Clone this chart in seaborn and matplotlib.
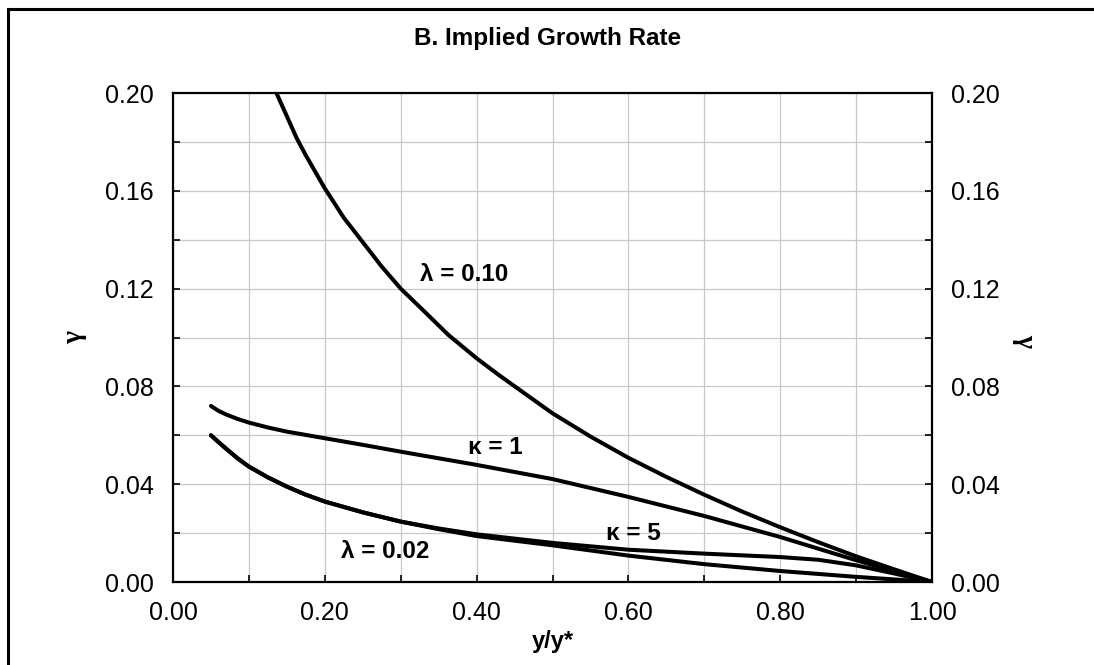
import matplotlib
matplotlib.use("Agg")
import matplotlib.pyplot as plt
import matplotlib.patches as mpatches
from matplotlib.ticker import MultipleLocator, FormatStrFormatter
import seaborn as sns
import pandas as pd

# ---- data ----
x_lam10 = [0.12, 0.137, 0.15, 0.163, 0.175, 0.20, 0.225, 0.25, 0.275, 0.30, 0.33, 0.363, 0.40, 0.43, 0.50, 0.55, 0.60, 0.65, 0.70, 0.75, 0.80, 0.85, 0.90, 0.95, 1.00]
y_lam10 = [0.212, 0.1995, 0.1905, 0.1815, 0.1745, 0.161, 0.149, 0.139, 0.129, 0.120, 0.111, 0.101, 0.0915, 0.0845, 0.069, 0.0595, 0.0508, 0.043, 0.0357, 0.0288, 0.0224, 0.0163, 0.0105, 0.0052, 0.0]

x_kap1 = [0.05, 0.06, 0.07, 0.085, 0.10, 0.125, 0.15, 0.20, 0.25, 0.30, 0.40, 0.50, 0.60, 0.70, 0.80, 0.90, 1.00]
y_kap1 = [0.072, 0.070, 0.0685, 0.0667, 0.0652, 0.0632, 0.0615, 0.0588, 0.0561, 0.0533, 0.0479, 0.0421, 0.0348, 0.027, 0.0184, 0.0089, 0.0]

x_kap5 = [0.05, 0.06, 0.07, 0.085, 0.10, 0.125, 0.15, 0.175, 0.20, 0.25, 0.30, 0.35, 0.40, 0.50, 0.60, 0.70, 0.80, 0.85, 0.90, 0.95, 1.00]
y_kap5 = [0.060, 0.0572, 0.0545, 0.0506, 0.0472, 0.0428, 0.0390, 0.0357, 0.0329, 0.0285, 0.0247, 0.0219, 0.0195, 0.0160, 0.0132, 0.0116, 0.0102, 0.0091, 0.0068, 0.0035, 0.0]

x_lam02 = [0.05, 0.06, 0.07, 0.085, 0.10, 0.125, 0.15, 0.175, 0.20, 0.25, 0.30, 0.35, 0.40, 0.50, 0.60, 0.70, 0.80, 0.90, 1.00]
y_lam02 = [0.060, 0.0572, 0.0545, 0.0506, 0.0472, 0.0428, 0.0390, 0.0357, 0.0329, 0.0285, 0.0247, 0.0216, 0.0188, 0.0150, 0.0108, 0.0073, 0.0045, 0.0021, 0.0]

series_names = ["λ = 0.10", "κ = 1", "κ = 5", "λ = 0.02"]
label_x = [0.325, 0.389, 0.570, 0.221]
label_y = [0.1256, 0.055, 0.020, 0.0124]

title = "B. Implied Growth Rate"
x_title = "y/y*"
y_title = "γ"

# ---- plotting ----
sns.set_theme(style="white")
plt.rcParams["font.family"] = ["Liberation Sans", "DejaVu Sans"]
plt.rcParams["text.color"] = "black"
plt.rcParams["axes.labelcolor"] = "black"
plt.rcParams["xtick.color"] = "black"
plt.rcParams["ytick.color"] = "black"

fig = plt.figure(figsize=(10.94, 6.65), dpi=100)
ax = fig.add_axes([173 / 1094, 1 - 582 / 665, (932 - 173) / 1094, (582 - 93) / 665])

frames = []
for name, xs, ys in zip(series_names,
                        [x_lam10, x_kap1, x_kap5, x_lam02],
                        [y_lam10, y_kap1, y_kap5, y_lam02]):
    frames.append(pd.DataFrame({"x": xs, "y": ys, "series": name}))
df = pd.concat(frames, ignore_index=True)

for name in series_names:
    sub = df[df["series"] == name]
    sns.lineplot(data=sub, x="x", y="y", ax=ax, color="black", lw=2.9,
                 sort=False, estimator=None, legend=False,
                 solid_joinstyle="round", solid_capstyle="round")

ax.set_xlim(0, 1.0)
ax.set_ylim(0, 0.20)
ax.xaxis.set_major_locator(MultipleLocator(0.2))
ax.xaxis.set_minor_locator(MultipleLocator(0.1))
ax.yaxis.set_major_locator(MultipleLocator(0.04))
ax.yaxis.set_minor_locator(MultipleLocator(0.02))
ax.xaxis.set_major_formatter(FormatStrFormatter("%.2f"))
ax.yaxis.set_major_formatter(FormatStrFormatter("%.2f"))

ax.grid(True, which="both", color="#c8c8c8", lw=0.9)
ax.set_axisbelow(True)
for s in ax.spines.values():
    s.set_color("black")
    s.set_linewidth(1.6)

ax.tick_params(which="both", direction="in", length=5, width=1.2, color="black",
               top=False, right=True, left=True, bottom=True)
ax.tick_params(axis="y", which="major", labelsize=18, pad=14, labelright=True, labelleft=True)
ax.tick_params(axis="x", which="major", labelsize=18, pad=14)

ax.set_xlabel(x_title, fontsize=17, fontweight="bold", labelpad=3)
ax.set_ylabel("")
ax.set_title("")

fig.text(548 / 1094, 1 - 39 / 665, title, fontsize=17.5, fontweight="bold",
         ha="center", va="center")
fig.text(75 / 1094, 1 - 338 / 665, y_title, fontsize=20, fontweight="bold",
         family=["Liberation Serif", "DejaVu Serif"],
         rotation=90, ha="center", va="center")
fig.text(1025 / 1094, 1 - 340 / 665, y_title, fontsize=20, fontweight="bold",
         family=["Liberation Serif", "DejaVu Serif"],
         rotation=-90, ha="center", va="center")

for name, lx, ly in zip(series_names, label_x, label_y):
    ax.text(lx, ly, name, fontsize=17.5, fontweight="bold", ha="left", va="center")

# outer chart frame (only left and top edges fall inside the image)
fig.patches.append(mpatches.Rectangle((8 / 1094, -0.1), 1.2, 1 - 9 / 665 + 0.1,
                                      transform=fig.transFigure, fill=False,
                                      edgecolor="black", lw=2.2, clip_on=False))

fig.savefig("out.png", dpi=100)
